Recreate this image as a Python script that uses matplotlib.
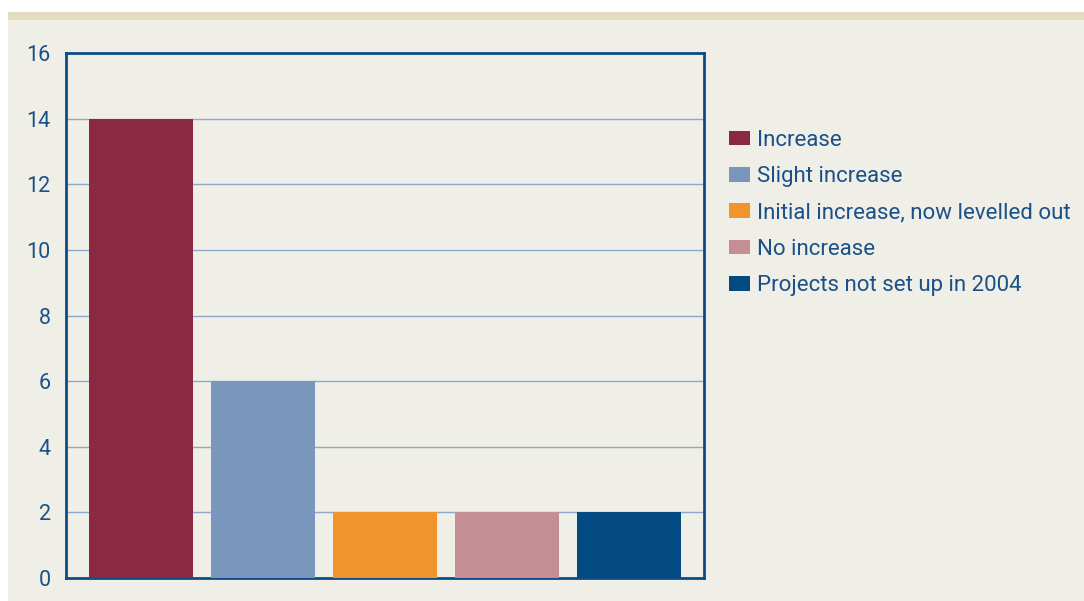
import matplotlib
matplotlib.use('Agg')
import matplotlib.pyplot as plt
from matplotlib.patches import Rectangle, Patch

# data
categories = ['Increase', 'Slight increase', 'Initial increase, now levelled out',
              'No increase', 'Projects not set up in 2004']
values = [14, 6, 2, 2, 2]
colors = ['#8b2942', '#7a96bc', '#f2942e', '#c58e94', '#034a82']
yticks = [0, 2, 4, 6, 8, 10, 12, 14, 16]

W, H = 1084, 601
textcol = '#1b5187'
framecol = '#0d4c84'
gridcol = '#8ea8cb'

plt.rcParams['font.family'] = ['Roboto', 'DejaVu Sans']

fig = plt.figure(figsize=(W / 100, H / 100), dpi=100)
fig.patch.set_facecolor('white')

# background panel and top band
fig.add_artist(Rectangle((8 / W, 0), 1 - 8 / W, 1 - 20 / H, transform=fig.transFigure,
                         facecolor='#efeee7', edgecolor='none', zorder=0))
fig.add_artist(Rectangle((8 / W, 1 - 20 / H), 1 - 8 / W, 8 / H, transform=fig.transFigure,
                         facecolor='#e3dcc0', edgecolor='none', zorder=0))

ax = fig.add_axes([66 / W, 1 - 578 / H, (704 - 66) / W, (578 - 53) / H])
ax.set_facecolor('none')

x = list(range(len(values)))
ax.bar(x, values, width=0.854, color=colors, zorder=3)

ax.set_xlim(-0.62, 4.62)
ax.set_ylim(0, 16)
ax.set_yticks(yticks)
ax.set_yticklabels([str(t) for t in yticks], fontsize=15.5, color=textcol)
ax.set_xticks([])
ax.tick_params(axis='y', length=0, pad=11)
ax.yaxis.grid(True, color=gridcol, linewidth=1, zorder=1)
ax.set_axisbelow(True)
for s in ax.spines.values():
    s.set_color(framecol)
    s.set_linewidth(2)

handles = [Patch(facecolor=c, edgecolor='none') for c in colors]
fig.legend(handles, categories, loc='upper left', bbox_to_anchor=(720 / W, 1 - 121 / H),
           frameon=False, fontsize=16, labelcolor=textcol, handlelength=0.95,
           handleheight=0.63, handletextpad=0.3, labelspacing=0.69, borderaxespad=0)

fig.savefig('out.png', dpi=100, facecolor=fig.get_facecolor())
